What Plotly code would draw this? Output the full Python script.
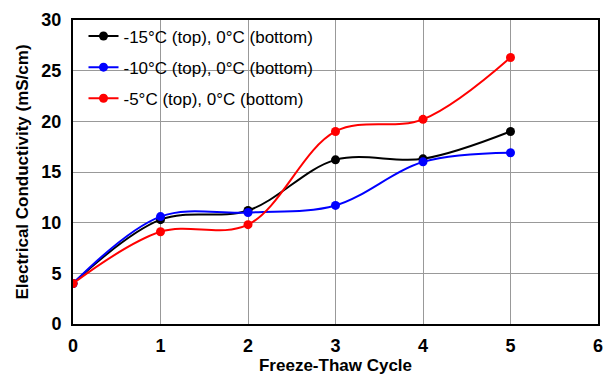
import plotly.graph_objects as go

cycles = [0, 1, 2, 3, 4, 5]
s15 = [4.0, 10.3, 11.2, 16.2, 16.3, 19.0]
s10 = [4.0, 10.6, 11.0, 11.7, 16.0, 16.9]
s5 = [4.0, 9.1, 9.8, 19.0, 20.2, 26.3]
names = ["-15°C (top), 0°C (bottom)", "-10°C (top), 0°C (bottom)", "-5°C (top), 0°C (bottom)"]
colors = ["#000000", "#0000FF", "#FF0000"]
series = [s15, s10, s5]

fig = go.Figure()
for i, (ys, nm, c) in enumerate(zip(series, names, colors)):
    fig.add_trace(go.Scatter(
        x=cycles, y=ys, name=nm, mode="lines+markers",
        line=dict(color=c, width=2, shape="spline", smoothing=1.0),
        marker=dict(color=c, size=9),
        legendgroup=f"g{i}",
    ))

font_family = "Liberation Sans, Arial, sans-serif"
fig.update_layout(
    width=606, height=375,
    margin=dict(l=73, r=3, t=20, b=51),
    paper_bgcolor="white", plot_bgcolor="white",
    font=dict(family=font_family, color="black"),
    showlegend=True,
    legend=dict(
        x=0.02, y=1.005, xanchor="left", yanchor="top",
        bgcolor="rgba(0,0,0,0)", font=dict(size=17, family=font_family),
        tracegroupgap=6, traceorder="grouped", itemwidth=30,
    ),
    xaxis=dict(
        range=[0, 6], dtick=1, tick0=0,
        showgrid=True, gridcolor="#999999", gridwidth=1,
        showline=True, linecolor="black", linewidth=2, mirror=True,
        ticks="", zeroline=False, ticklabelstandoff=4,
        ticklabeloverflow="allow",
        tickfont=dict(size=18, family=font_family, weight="bold"),
        title=dict(text="<b>Freeze-Thaw Cycle</b>", font=dict(size=17), standoff=2),
    ),
    yaxis=dict(
        range=[0, 30], dtick=5, tick0=0,
        showgrid=True, gridcolor="#999999", gridwidth=1,
        showline=True, linecolor="black", linewidth=2, mirror=True,
        ticks="", zeroline=False, ticklabelstandoff=6,
        tickfont=dict(size=18, family=font_family, weight="bold"),
        title=dict(text="<b>Electrical Conductivity (mS/cm)</b>", font=dict(size=17), standoff=8),
    ),
)

fig.write_html("out.html")
